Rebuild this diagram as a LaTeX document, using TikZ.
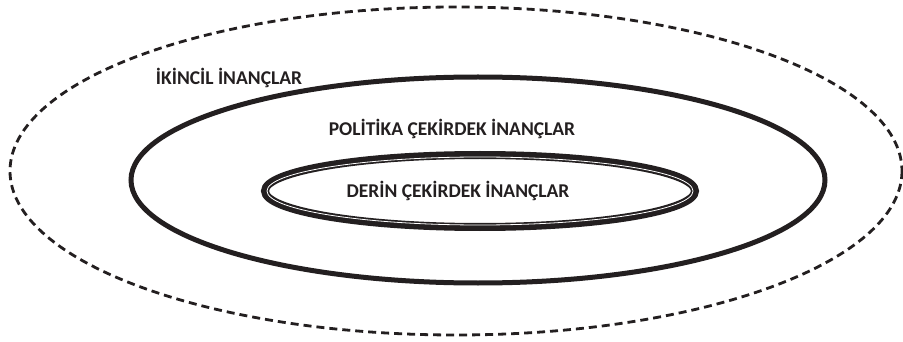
\documentclass[tikz,border=0pt]{standalone}
\usepackage{fontspec}
\setmainfont{Carlito}
\definecolor{ink}{HTML}{231F20}
\begin{document}
\begin{tikzpicture}[x=1pt,y=-1pt,
	belief/.style={font=\bfseries\fontsize{19.5}{21}\selectfont,text=ink,inner sep=0pt},
	outerring/.style={draw=ink,line width=2.8pt,dash pattern=on 8pt off 5pt},
	midring/.style={draw=ink,line width=5pt},
	corering/.style={draw=ink,line width=8pt}]
	\useasboundingbox (0,0) rectangle (903,342);
	% ikincil inanclar
	\draw[outerring] (456,171) ellipse [x radius=446, y radius=164];
	% politika cekirdek inanclar
	\draw[midring] (478,180) ellipse [x radius=347, y radius=103];
	% derin cekirdek inanclar
	\draw[corering] (480,191) ellipse [x radius=215, y radius=36];
	\draw[white,line width=0.8pt] (480,191) ellipse [x radius=213, y radius=34];
	\node[belief] (ikincil) at (229,78) {İKİNCİL İNANÇLAR};
	\node[belief] (politika) at (452,129) {POLİTİKA ÇEKİRDEK İNANÇLAR};
	\node[belief] (derin) at (458,191) {DERİN ÇEKİRDEK İNANÇLAR};
\end{tikzpicture}
\end{document}
